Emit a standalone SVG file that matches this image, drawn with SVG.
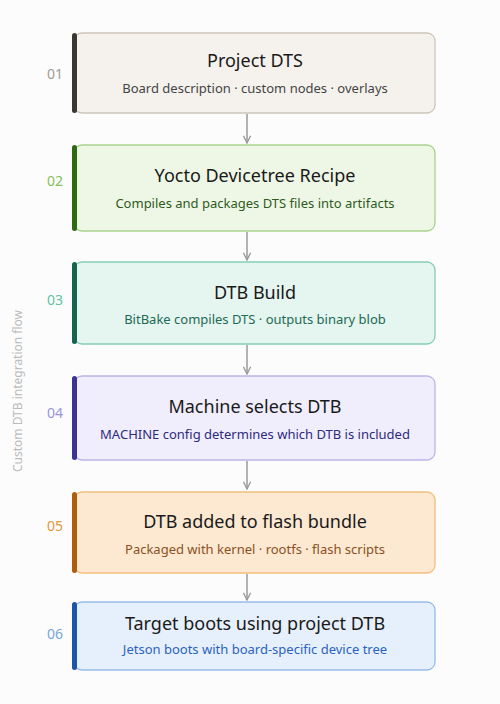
<svg xmlns="http://www.w3.org/2000/svg" width="500" height="704" viewBox="0 0 500 704">
<style>
text{font-family:"Noto Sans","Open Sans",sans-serif}
.t{font-size:18px;fill:#1a1a1a;text-anchor:middle}
.s{font-size:13px;text-anchor:middle}
.n{font-size:14px;text-anchor:middle}
.box{stroke-width:1.3}
.conn{stroke:#9a9a9a;stroke-width:1.5;fill:none}
</style>
<defs>
<marker id="ah" viewBox="0 0 10 10" refX="9" refY="5" markerWidth="9" markerHeight="9" markerUnits="userSpaceOnUse" orient="auto">
<path d="M1,1 L9,5 L1,9" fill="none" stroke="#9a9a9a" stroke-width="1.5"/>
</marker>
</defs>
<rect width="500" height="704" fill="#fcfcfc"/>
<text x="22" y="391" transform="rotate(-90 22 391)" style="font-size:12px;fill:#bbbbbb;text-anchor:middle">Custom DTB integration flow</text>
<g id="connectors">
<line class="conn" x1="247" y1="114" x2="247" y2="143" marker-end="url(#ah)"/>
<line class="conn" x1="247" y1="232" x2="247" y2="260" marker-end="url(#ah)"/>
<line class="conn" x1="247" y1="345" x2="247" y2="374" marker-end="url(#ah)"/>
<line class="conn" x1="247" y1="461" x2="247" y2="489" marker-end="url(#ah)"/>
<line class="conn" x1="247" y1="574" x2="247" y2="600" marker-end="url(#ah)"/>
</g>
<g id="n1">
<rect class="box" x="74" y="33" width="361" height="80" rx="8" fill="#f5f2ed" stroke="#cdc5ba"/>
<rect x="72" y="33" width="5" height="80" rx="2.5" fill="#3b3834"/>
<text class="n" x="55" y="79" fill="#a09a94">01</text>
<text class="t" x="255" y="67">Project DTS</text>
<text class="s" x="255" y="93" fill="#444">Board description · custom nodes · overlays</text>
</g>
<g id="n2">
<rect class="box" x="74" y="145" width="361" height="86" rx="8" fill="#eef7e5" stroke="#a9d28f"/>
<rect x="72" y="145" width="5" height="86" rx="2.5" fill="#2d6a12"/>
<text class="n" x="55" y="186" fill="#86c062">02</text>
<text class="t" x="255" y="182">Yocto Devicetree Recipe</text>
<text class="s" x="255" y="208" fill="#2f5a1d">Compiles and packages DTS files into artifacts</text>
</g>
<g id="n3">
<rect class="box" x="74" y="262" width="361" height="82" rx="8" fill="#e5f5ef" stroke="#86cdb4"/>
<rect x="72" y="262" width="5" height="82" rx="2.5" fill="#15654e"/>
<text class="n" x="55" y="305" fill="#62c2a4">03</text>
<text class="t" x="255" y="299">DTB Build</text>
<text class="s" x="255" y="324" fill="#1d6a55">BitBake compiles DTS · outputs binary blob</text>
</g>
<g id="n4">
<rect class="box" x="74" y="376" width="361" height="84" rx="8" fill="#f0eefc" stroke="#bcb4e7"/>
<rect x="72" y="376" width="5" height="84" rx="2.5" fill="#3b3393"/>
<text class="n" x="55" y="418" fill="#9b93dc">04</text>
<text class="t" x="255" y="413">Machine selects DTB</text>
<text class="s" x="255" y="439" fill="#2e2a7e">MACHINE config determines which DTB is included</text>
</g>
<g id="n5">
<rect class="box" x="74" y="492" width="361" height="81" rx="8" fill="#fde8d1" stroke="#f2be7f"/>
<rect x="72" y="492" width="5" height="81" rx="2.5" fill="#ae5d0f"/>
<text class="n" x="55" y="531" fill="#e0983a">05</text>
<text class="t" x="255" y="528">DTB added to flash bundle</text>
<text class="s" x="255" y="554" fill="#8a5123">Packaged with kernel · rootfs · flash scripts</text>
</g>
<g id="n6">
<rect class="box" x="74" y="602" width="361" height="68" rx="8" fill="#e6f0fc" stroke="#95bce8"/>
<rect x="72" y="602" width="5" height="68" rx="2.5" fill="#1c56a5"/>
<text class="n" x="55" y="639" fill="#78a4db">06</text>
<text class="t" x="255" y="630">Target boots using project DTB</text>
<text class="s" x="255" y="654" fill="#2a63bf">Jetson boots with board-specific device tree</text>
</g>
</svg>
